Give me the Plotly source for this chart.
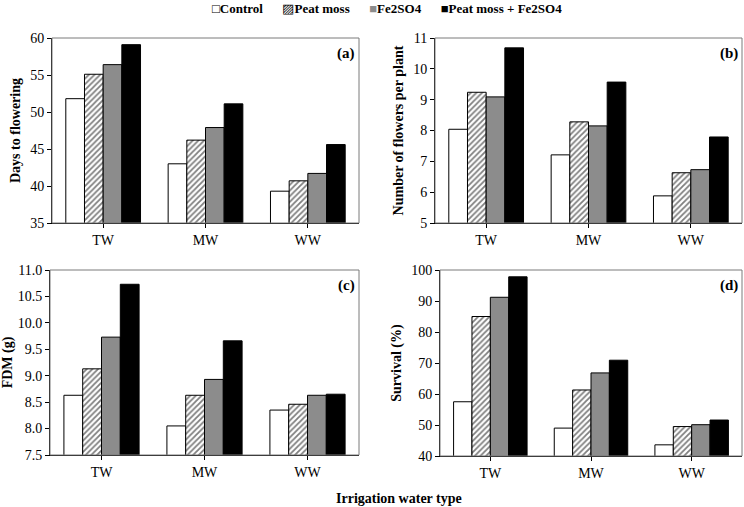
import plotly.graph_objects as go

categories = ["TW", "MW", "WW"]
series_names = ["Control", "Peat moss", "Fe2SO4", "Peat moss + Fe2SO4"]

days_to_flowering = {
    "Control": [51.8, 43.0, 39.3],
    "Peat moss": [55.1, 46.2, 40.7],
    "Fe2SO4": [56.4, 47.9, 41.7],
    "Peat moss + Fe2SO4": [59.1, 51.1, 45.6],
}
flowers_per_plant = {
    "Control": [8.04, 7.21, 5.88],
    "Peat moss": [9.24, 8.28, 6.63],
    "Fe2SO4": [9.09, 8.15, 6.73],
    "Peat moss + Fe2SO4": [10.68, 9.57, 7.79],
}
fdm = {
    "Control": [8.63, 8.05, 8.35],
    "Peat moss": [9.13, 8.63, 8.46],
    "Fe2SO4": [9.73, 8.93, 8.63],
    "Peat moss + Fe2SO4": [10.73, 9.66, 8.65],
}
survival = {
    "Control": [57.5, 49.0, 43.6],
    "Peat moss": [85.0, 61.3, 49.5],
    "Fe2SO4": [91.2, 66.8, 50.1],
    "Peat moss + Fe2SO4": [97.8, 70.9, 51.6],
}

panels = [
    dict(data=days_to_flowering, title="Days to flowering", rng=[35, 60], dtick=5, fmt="", label="(a)",
         xd=[52/744, 359/744], yd=[1-223/507, 1-38/507]),
    dict(data=flowers_per_plant, title="Number of flowers per plant", rng=[5, 11], dtick=1, fmt="", label="(b)",
         xd=[435/744, 742/744], yd=[1-223/507, 1-38/507]),
    dict(data=fdm, title="FDM (g)", rng=[7.5, 11], dtick=0.5, fmt=".1f", label="(c)",
         xd=[50/744, 359/744], yd=[1-455/507, 1-270/507]),
    dict(data=survival, title="Survival (%)", rng=[40, 100], dtick=10, fmt="", label="(d)",
         xd=[440/744, 742/744], yd=[1-456/507, 1-270/507]),
]

styles = {
    "Control": dict(color="white"),
    "Peat moss": dict(color="white", pattern=dict(shape="/", fgcolor="black", bgcolor="white", size=4, solidity=0.45)),
    "Fe2SO4": dict(color="#8c8c8c"),
    "Peat moss + Fe2SO4": dict(color="black"),
}

FONT = "Liberation Serif, Times New Roman, serif"
fig = go.Figure()
layout = dict(
    width=744, height=507,
    margin=dict(l=0, r=0, t=0, b=0),
    paper_bgcolor="white", plot_bgcolor="white",
    barmode="group", bargap=0.27, bargroupgap=0,
    showlegend=False,
    font=dict(family=FONT, size=14, color="black"),
)
shapes = []
annotations = []
for i, p in enumerate(panels):
    n = i + 1
    xa = "x" if n == 1 else f"x{n}"
    ya = "y" if n == 1 else f"y{n}"
    for s in series_names:
        fig.add_trace(go.Bar(
            x=categories, y=p["data"][s], name=s, xaxis=xa, yaxis=ya,
            marker=dict(line=dict(color="black", width=1), **styles[s]),
            showlegend=False,
        ))
    layout["xaxis" if n == 1 else f"xaxis{n}"] = dict(
        domain=p["xd"], anchor=ya, showline=True, linecolor="black", linewidth=1,
        ticks="outside", ticklen=4, tickcolor="black", showgrid=False, automargin=False,
        tickfont=dict(family=FONT, size=14),
    )
    layout["yaxis" if n == 1 else f"yaxis{n}"] = dict(
        domain=p["yd"], anchor=xa, range=p["rng"], dtick=p["dtick"], tickformat=p["fmt"],
        showline=True, linecolor="black", linewidth=1, ticks="outside", ticklen=4,
        tickcolor="black", showgrid=False, zeroline=False, automargin=False,
        tickfont=dict(family=FONT, size=14),
        title=dict(text=f"<b>{p['title']}</b>", font=dict(family=FONT, size=14), standoff=6),
    )
    shapes.append(dict(type="rect", xref=f"{xa} domain", yref=f"{ya} domain", x0=0, x1=1, y0=0, y1=1,
                       line=dict(color="#7a7a7a", width=1), layer="above"))
    annotations.append(dict(text=f"<b>{p['label']}</b>", xref=f"{xa} domain", yref=f"{ya} domain",
                            x=0.995, y=0.975, xanchor="right", yanchor="top", showarrow=False,
                            font=dict(family=FONT, size=15)))

# x-axis common title
annotations.append(dict(text="<b>Irrigation water type</b>", xref="paper", yref="paper",
                        x=399/744, y=1-498/507, xanchor="center", yanchor="middle", showarrow=False,
                        font=dict(family=FONT, size=14)))

# legend built from series names
sym = {
    "Control": "□",
    "Peat moss": "▨",
    "Fe2SO4": "<span style='color:#8c8c8c'>■</span>",
    "Peat moss + Fe2SO4": "■",
}
leg = "      ".join(f"<span style='font-size:13px'>{sym[s]}</span><b>{s}</b>" for s in series_names)
annotations.append(dict(text=leg, xref="paper", yref="paper", x=387/744, y=1-9/507,
                        xanchor="center", yanchor="middle", showarrow=False,
                        font=dict(family=FONT, size=13)))

layout["shapes"] = shapes
layout["annotations"] = annotations
fig.update_layout(**layout)
fig.write_html("out.html", config={"displayModeBar": False},
               post_script="document.body.style.margin='0px';document.body.style.padding='0px';")
